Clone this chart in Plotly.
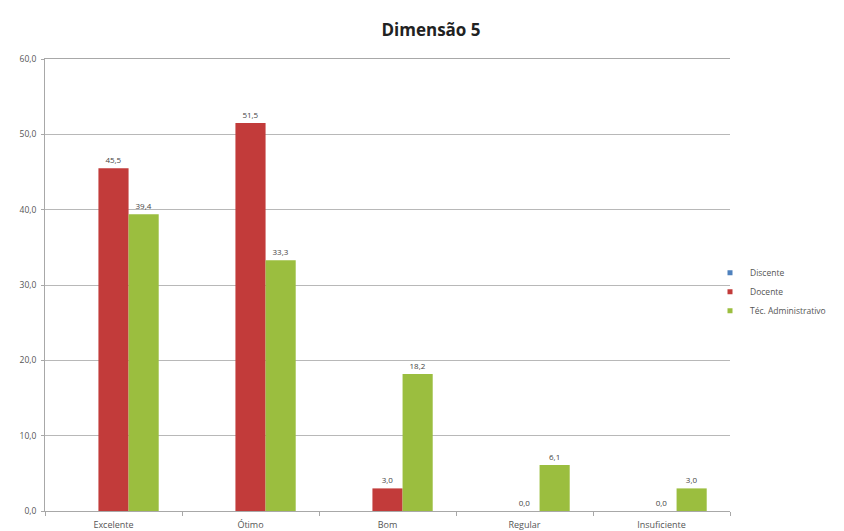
import plotly.graph_objects as go

# Categories and series values (percent)
categorias = ["Excelente", "Ótimo", "Bom", "Regular", "Insuficiente"]
discente = [None, None, None, None, None]
docente = [45.5, 51.5, 3.0, 0.0, 0.0]
tec_admin = [39.4, 33.3, 18.2, 6.1, 3.0]
y_ticks = [0, 10, 20, 30, 40, 50, 60]


def rotulo(v):
    return "" if v is None else f"{v:.1f}".replace(".", ",")


series = [
    ("Discente", discente, "#4F81BD"),
    ("Docente", docente, "#C23B3A"),
    ("Téc. Administrativo", tec_admin, "#9BBE3F"),
]

fig = go.Figure()
for nome, valores, cor in series:
    # bars (legend entry drawn by a small square marker trace below)
    fig.add_trace(go.Bar(
        x=categorias,
        y=valores,
        name=nome,
        showlegend=False,
        marker=dict(color=cor, line=dict(width=0)),
        text=[rotulo(v) for v in valores],
        textposition="outside",
        textfont=dict(size=8, color="#444444"),
        cliponaxis=False,
    ))
for nome, valores, cor in series:
    fig.add_trace(go.Scatter(
        x=[None],
        y=[None],
        mode="markers",
        name=nome,
        marker=dict(symbol="square", size=5, color=cor),
    ))

fig.update_layout(
    width=844,
    height=531,
    margin=dict(l=45, r=114, t=59, b=20),
    paper_bgcolor="white",
    plot_bgcolor="white",
    font=dict(family="Open Sans, Liberation Sans, sans-serif", color="#555555"),
    separators=",.",
    barmode="group",
    bargap=0.34,
    bargroupgap=0,
    title=dict(
        text="<b>Dimensão 5</b>",
        x=431 / 844,
        xanchor="center",
        y=1 - 30 / 531,
        yanchor="middle",
        font=dict(size=17, color="#222222"),
    ),
    legend=dict(
        x=(710 - 45) / 685,
        xanchor="left",
        y=0.485,
        yanchor="middle",
        font=dict(size=8.5, color="#555555"),
        itemwidth=30,
        tracegroupgap=0,
        bgcolor="rgba(0,0,0,0)",
    ),
    showlegend=True,
)

fig.update_xaxes(
    automargin=False,
    showline=True,
    mirror=True,
    linecolor="#A8A8A8",
    linewidth=1,
    ticks="outside",
    tickson="boundaries",
    ticklen=4,
    tickcolor="#A8A8A8",
    ticklabelstandoff=5,
    tickfont=dict(size=9, color="#555555"),
    showgrid=False,
)

fig.update_yaxes(
    automargin=False,
    range=[0, 60],
    tickvals=y_ticks,
    tickformat=".1f",
    showline=True,
    linecolor="#A8A8A8",
    linewidth=1,
    ticks="outside",
    ticklen=3,
    tickcolor="#A8A8A8",
    ticklabelstandoff=3,
    tickfont=dict(size=8.5, color="#555555"),
    showgrid=True,
    gridcolor="#B8B8B8",
    gridwidth=1,
    zeroline=False,
)

fig.write_html("out.html")
